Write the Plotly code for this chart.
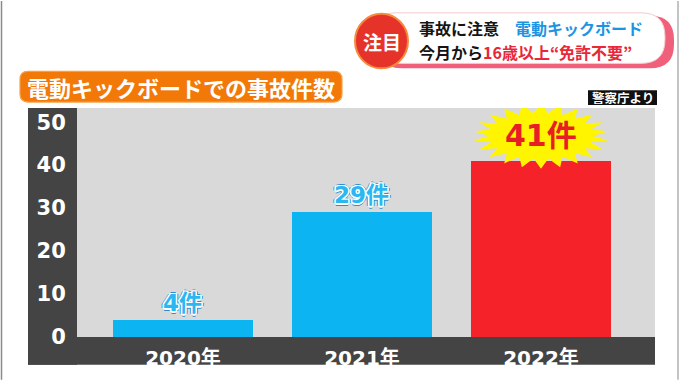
import numpy as np
import plotly.graph_objects as go

# ---- data ----
years = ["2020年", "2021年", "2022年"]
accidents = [4, 29, 41]
bar_colors = ["#0db4f2", "#0db4f2", "#f5222a"]
label_suffix = "件"
y_ticks = [0, 10, 20, 30, 40, 50]

title_text = "電動キックボードでの事故件数"
source_text = "警察庁より"

# ---- geometry (pixels) ----
W, H = 680, 382
PL, PR, PT, PB = 77, 655, 108, 339
x_range = [-0.592, 2.637]
y_range = [0, 53.3]
x_ppu = (PR - PL) / (x_range[1] - x_range[0])
y_ppu = (PB - PT) / (y_range[1] - y_range[0])


def px(x):
    return (x - PL) / (PR - PL)


def py(y):
    return (PB - y) / (PB - PT)


def rrect(x0, y0, x1, y1, r):
    pts = [
        ("M", [(x0 + r, y0)]),
        ("L", [(x1 - r, y0)]),
        ("Q", [(x1, y0), (x1, y0 + r)]),
        ("L", [(x1, y1 - r)]),
        ("Q", [(x1, y1), (x1 - r, y1)]),
        ("L", [(x0 + r, y1)]),
        ("Q", [(x0, y1), (x0, y1 - r)]),
        ("L", [(x0, y0 + r)]),
        ("Q", [(x0, y0), (x0 + r, y0)]),
    ]
    s = ""
    for cmd, ps in pts:
        s += cmd + " " + " ".join(f"{px(a):.5f},{py(b):.5f}" for a, b in ps) + " "
    return s + "Z"


fig = go.Figure()

fig.add_trace(go.Bar(
    x=list(range(len(years))), y=accidents,
    marker=dict(color=bar_colors, line=dict(width=0)),
    width=0.78, hoverinfo="skip",
))

# starburst behind the highlighted value
hi = int(np.argmax(accidents))
n_spikes = 22
ang = np.linspace(0, 2 * np.pi, 2 * n_spikes + 1) + np.pi / 2
rad_x = np.where(np.arange(2 * n_spikes + 1) % 2 == 0, 68, 52)
rad_y = np.where(np.arange(2 * n_spikes + 1) % 2 == 0, 33, 23)
cx, cy = hi, accidents[hi] + 5.8
sx = cx + rad_x * np.cos(ang) / x_ppu
sy = cy + rad_y * np.sin(ang) / y_ppu
fig.add_trace(go.Scatter(
    x=sx, y=sy, fill="toself", fillcolor="#fff500", mode="lines",
    line=dict(width=0, color="#fff500"), hoverinfo="skip",
))

outline = ("1.5px 0 0 #fff, -1.5px 0 0 #fff, 0 1.5px 0 #fff, 0 -1.5px 0 #fff, "
           "1px 1px 0 #fff, -1px -1px 0 #fff, 1px -1px 0 #fff, -1px 1px 0 #fff, "
           "2.5px 0 0 #2a8fd0, -2.5px 0 0 #2a8fd0, 0 2.5px 0 #2a8fd0, 0 -2.5px 0 #2a8fd0")

annotations = []
for i, v in enumerate(accidents):
    if i == hi:
        annotations.append(dict(
            x=cx, y=cy, xref="x", yref="y", text=f"<b>{v}{label_suffix}</b>",
            showarrow=False, xanchor="center", yanchor="middle",
            font=dict(family="DejaVu Sans, Noto Sans CJK JP", size=30, color="#e81e26"),
        ))
    else:
        annotations.append(dict(
            x=i, y=v, xref="x", yref="y", text=f"<b>{v}{label_suffix}</b>",
            showarrow=False, xanchor="center", yanchor="bottom", yshift=2,
            font=dict(family="DejaVu Sans, Noto Sans CJK JP", size=23, color="#2bb8f2",
                      shadow=outline),
        ))

# title box text
annotations.append(dict(
    x=px(25), y=py(86.5), xref="paper", yref="paper", xanchor="left", yanchor="middle",
    text=f"<b>{title_text}</b>", showarrow=False,
    font=dict(family="Noto Sans CJK JP", size=22, color="#ffffff"),
))
# source
annotations.append(dict(
    x=px(622.5), y=py(97.5), xref="paper", yref="paper", xanchor="center", yanchor="middle",
    text=f"<b>{source_text}</b>", showarrow=False,
    font=dict(family="Noto Sans CJK JP", size=12.5, color="#ffffff"),
))
# header
annotations.append(dict(
    x=px(381.5), y=py(40.5), xref="paper", yref="paper", xanchor="center", yanchor="middle",
    text="<b>注目</b>", showarrow=False,
    font=dict(family="Noto Sans CJK JP", size=19, color="#ffffff"),
))
annotations.append(dict(
    x=px(417), y=py(27.5), xref="paper", yref="paper", xanchor="left", yanchor="middle",
    text="<b>事故に注意　<span style='color:#1b95e2'>電動キックボード</span></b>",
    showarrow=False,
    font=dict(family="Noto Sans CJK JP", size=16, color="#151515"),
))
annotations.append(dict(
    x=px(417), y=py(51.5), xref="paper", yref="paper", xanchor="left", yanchor="middle",
    text="<b>今月から<span style='color:#e8283a'>16歳以上“免許不要”</span></b>",
    showarrow=False,
    font=dict(family="Noto Sans CJK JP", size=16, color="#151515"),
))

dark = "#444444"
shapes = [
    # thin frame lines
    dict(type="line", xref="paper", yref="paper", x0=px(1.5), x1=px(1.5), y0=py(0), y1=py(382),
         line=dict(color="#8a8a8a", width=1.5), layer="below"),
    dict(type="line", xref="paper", yref="paper", x0=px(678), x1=px(678), y0=py(0), y1=py(382),
         line=dict(color="#b0b0b0", width=1.5), layer="below"),
    # dark axis panels
    dict(type="rect", xref="paper", yref="paper", x0=px(28), x1=px(77), y0=py(108), y1=py(367),
         fillcolor=dark, line=dict(width=0), layer="below"),
    dict(type="rect", xref="paper", yref="paper", x0=px(28), x1=px(655), y0=py(339), y1=py(367),
         fillcolor=dark, line=dict(width=0), layer="below"),
    # title box
    dict(type="path", xref="paper", yref="paper", path=rrect(20, 71, 342, 102, 8),
         fillcolor="#f27808", line=dict(color="#f7a04a", width=1.2), layer="below"),
    # source box
    dict(type="rect", xref="paper", yref="paper", x0=px(588), x1=px(657), y0=py(90), y1=py(105),
         fillcolor="#111111", line=dict(width=0), layer="below"),
    # header pill (rim + body)
    dict(type="path", xref="paper", yref="paper", path=rrect(378, 15, 674, 68, 24),
         fillcolor="#f0607a", line=dict(width=0), layer="below"),
    dict(type="path", xref="paper", yref="paper", path=rrect(372, 12, 665, 63, 24),
         fillcolor="#ffffff", line=dict(color="#f6c9c9", width=1), layer="below"),
    # header circle
    dict(type="circle", xref="paper", yref="paper", x0=px(355), x1=px(408), y0=py(13), y1=py(68),
         fillcolor="#e6332a", line=dict(color="#f58a3c", width=2), layer="below"),
]

fig.update_layout(
    width=W, height=H, autosize=False,
    margin=dict(l=PL, r=W - PR, t=PT, b=H - PB, pad=0),
    paper_bgcolor="#ffffff", plot_bgcolor="#d9d9d9",
    showlegend=False, bargap=0,
    annotations=annotations, shapes=shapes,
    xaxis=dict(range=x_range, tickvals=list(range(len(years))), ticktext=years,
               showgrid=False, zeroline=False, showline=False,
               ticks="outside", ticklen=3, tickcolor="rgba(0,0,0,0)",
               tickfont=dict(family="DejaVu Sans, Noto Sans CJK JP", size=20, color="#ffffff",
                             weight="bold"),
               fixedrange=True),
    yaxis=dict(range=y_range, tickvals=y_ticks, ticktext=[str(t) for t in y_ticks],
               showgrid=False, zeroline=False, showline=False,
               ticks="outside", ticklen=6, tickcolor="rgba(0,0,0,0)",
               tickfont=dict(family="DejaVu Sans", size=21, color="#ffffff", weight="bold"),
               fixedrange=True),
)

fig.write_html(
    "out.html",
    config={"displayModeBar": False},
    post_script="document.body.style.margin='0';document.body.style.overflow='hidden';",
)
